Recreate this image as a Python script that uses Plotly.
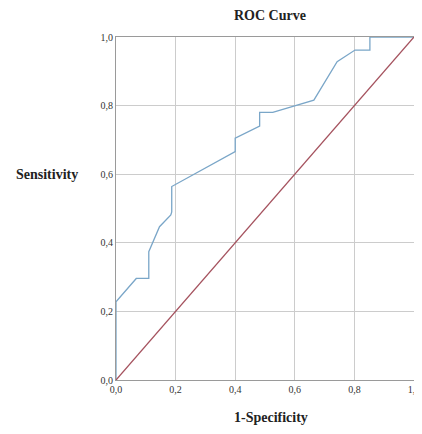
import plotly.graph_objects as go

fpr = [0.0, 0.0, 0.068, 0.11, 0.11, 0.146, 0.184, 0.187, 0.187, 0.40, 0.40, 0.482, 0.482, 0.526, 0.664, 0.742, 0.802, 0.852, 0.852, 1.0]
tpr = [0.0, 0.228, 0.296, 0.296, 0.374, 0.447, 0.481, 0.49, 0.564, 0.666, 0.705, 0.740, 0.780, 0.780, 0.816, 0.928, 0.962, 0.962, 1.0, 1.0]
ref_x = [0.0, 1.0]
ref_y = [0.0, 1.0]
tick_vals = [0.0, 0.2, 0.4, 0.6, 0.8, 1.0]
tick_text = ["0,0", "0,2", "0,4", "0,6", "0,8", "1,0"]

serif = "Liberation Serif, Times New Roman, serif"

fig = go.Figure()
fig.add_trace(go.Scatter(x=fpr, y=tpr, mode="lines",
                         line=dict(color="#7aa6c8", width=1.3), showlegend=False))
fig.add_trace(go.Scatter(x=ref_x, y=ref_y, mode="lines",
                         line=dict(color="#a5525e", width=1.3), showlegend=False))

axis_common = dict(range=[0, 1], tickvals=tick_vals, ticktext=tick_text,
                   showgrid=True, gridcolor="#cccccc", gridwidth=1,
                   showline=True, linecolor="#9a9a9a", linewidth=1, mirror=True,
                   zeroline=False, ticks="", automargin=False,
                   tickfont=dict(family=serif, size=10, color="#333333"))

fig.update_layout(
    width=414, height=418,
    margin=dict(l=108, r=8, t=29, b=46),
    paper_bgcolor="white", plot_bgcolor="white",
    xaxis=dict(**axis_common, ticklabeloverflow="allow"),
    yaxis=dict(**axis_common),
    annotations=[
        dict(text="<b>ROC Curve</b>", x=0.5, y=1, xref="paper", yref="paper",
             xanchor="center", yanchor="middle", xshift=5, yshift=22,
             showarrow=False, font=dict(family=serif, size=14, color="#222222")),
        dict(text="<b>1-Specificity</b>", x=0.5, y=0, xref="paper", yref="paper",
             xanchor="center", yanchor="middle", xshift=6, yshift=-37,
             showarrow=False, font=dict(family=serif, size=14, color="#222222")),
        dict(text="<b>Sensitivity</b>", x=0, y=0.6, xref="paper", yref="y",
             xanchor="center", yanchor="middle", xshift=-69,
             showarrow=False, font=dict(family=serif, size=14, color="#222222")),
    ],
)
fig.write_html("out.html")
